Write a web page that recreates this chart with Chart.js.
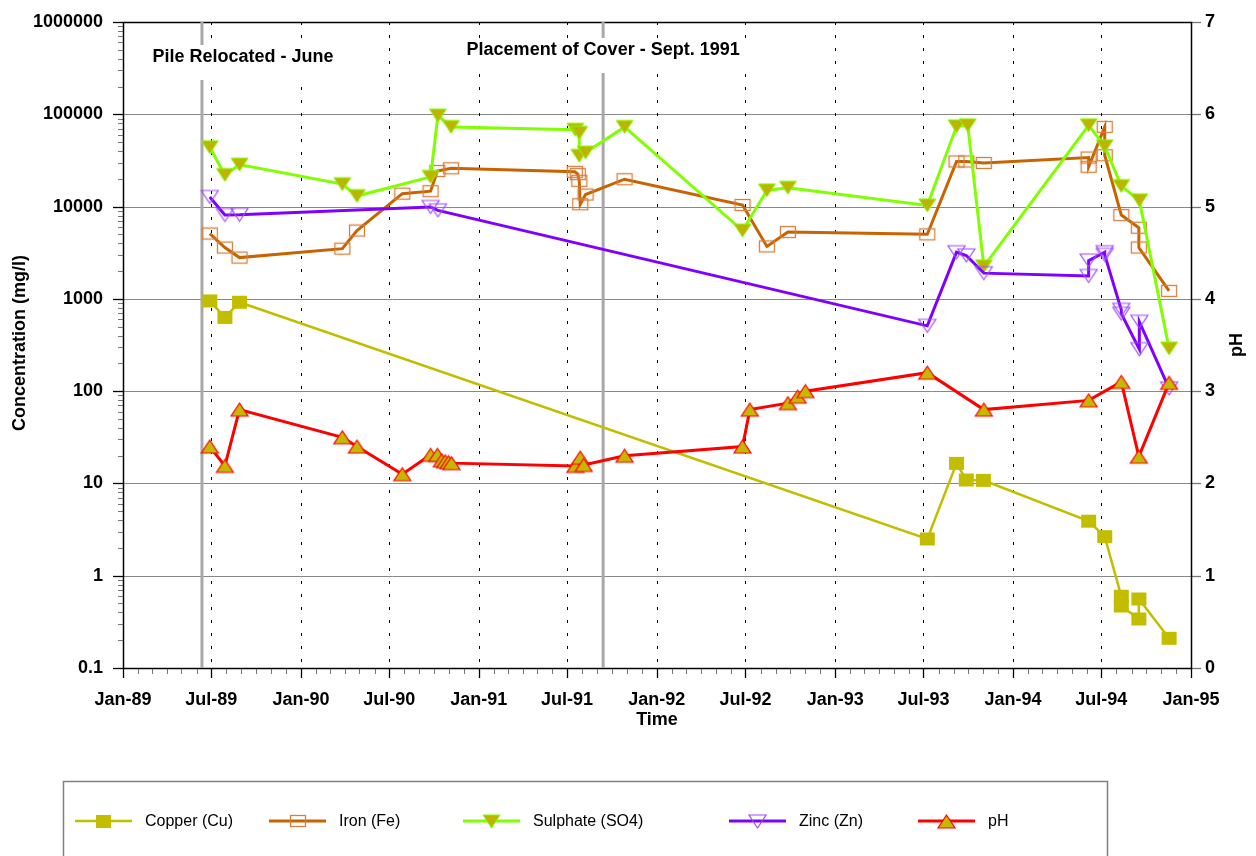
<!DOCTYPE html>
<html>
<head>
  <title>Seepage Chemistry 1989-1994</title>
  <script src="https://cdn.jsdelivr.net/npm/chart.js"></script>
</head>
<body style="margin:0;background:#fff;">
  <canvas id="chart" width="1256" height="856"></canvas>

  <script>
    // sampling dates and results, one pair of arrays per parameter
    const copperDates = ['1989-06-28', '1989-07-29', '1989-08-28', '1993-07-09', '1993-09-07', '1993-09-27', '1993-11-01',
      '1994-06-05', '1994-07-08', '1994-08-11', '1994-08-11', '1994-09-16', '1994-09-16', '1994-11-17'];
    const copperValues = [950, 630, 920, 2.5, 16.5, 10.9, 10.8, 3.9, 2.65, 0.6, 0.47, 0.34, 0.56, 0.21];

    const ironDates = ['1989-06-28', '1989-07-29', '1989-08-28', '1990-03-27', '1990-04-26', '1990-07-28', '1990-09-24',
      '1990-10-08', '1990-11-05', '1991-07-17', '1991-07-23', '1991-07-26', '1991-07-28', '1991-08-08', '1991-10-27',
      '1992-06-25', '1992-08-14', '1992-09-26', '1993-07-09', '1993-09-07', '1993-09-27', '1993-11-02', '1994-06-05',
      '1994-06-05', '1994-07-08', '1994-07-08', '1994-08-11', '1994-09-16', '1994-09-16', '1994-11-17'];
    const ironValues = [5100, 3600, 2800, 3500, 5500, 13800, 14700, 24300, 26000, 23800, 22500, 19000, 10600, 13500, 19800,
      10400, 3700, 5300, 5000, 30800, 30800, 29700, 34000, 27000, 73000, 36000, 8100, 5900, 3600, 1220];

    const sulphateDates = ['1989-06-28', '1989-07-29', '1989-08-28', '1990-03-27', '1990-04-26', '1990-09-24', '1990-10-09',
      '1990-11-05', '1991-07-18', '1991-07-26', '1991-07-26', '1991-08-08', '1991-10-27', '1992-06-25', '1992-08-14',
      '1992-09-26', '1993-07-09', '1993-09-07', '1993-09-30', '1993-11-02', '1994-06-05', '1994-07-08', '1994-08-11',
      '1994-09-17', '1994-11-17'];
    const sulphateValues = [44000, 22000, 28500, 17500, 13000, 21000, 97000, 73000, 68000, 63000, 35500, 38500, 73000,
      5500, 15000, 16000, 10300, 74000, 76000, 2250, 76000, 45000, 16700, 11700, 290];

    const zincDates = ['1989-06-28', '1989-07-29', '1989-08-28', '1990-09-24', '1990-10-09', '1993-07-09', '1993-09-07',
      '1993-09-27', '1993-11-02', '1994-06-05', '1994-06-05', '1994-07-08', '1994-07-08', '1994-08-11', '1994-08-11',
      '1994-09-17', '1994-09-17', '1994-11-17'];
    const zincValues = [12700, 8100, 8150, 9900, 9100, 510, 3200, 2950, 1900, 1770, 2600, 3200, 3000, 760, 690, 285, 565, 107];

    const phDates = ['1989-06-28', '1989-07-29', '1989-08-28', '1990-03-27', '1990-04-26', '1990-07-28', '1990-09-24',
      '1990-10-08', '1990-10-17', '1990-10-24', '1990-10-31', '1990-11-06', '1991-07-18', '1991-07-28', '1991-08-04',
      '1991-10-27', '1992-06-25', '1992-07-10', '1992-09-26', '1992-10-16', '1992-11-01', '1993-07-09', '1993-11-02',
      '1994-06-05', '1994-08-11', '1994-09-16', '1994-11-17'];
    const phValues = [2.40, 2.19, 2.80, 2.50, 2.40, 2.10, 2.31, 2.31, 2.25, 2.24, 2.23, 2.22, 2.19, 2.28, 2.20,
      2.30, 2.40, 2.80, 2.87, 2.94, 3.00, 3.20, 2.80, 2.90, 3.10, 2.29, 3.09];

    const eventDates = ['1989-06-12', '1991-09-13'];
    const eventLabels = ['Pile Relocated - June', 'Placement of Cover - Sept. 1991'];

    const xTickLabels = ['Jan-89', 'Jul-89', 'Jan-90', 'Jul-90', 'Jan-91', 'Jul-91', 'Jan-92', 'Jul-92',
      'Jan-93', 'Jul-93', 'Jan-94', 'Jul-94', 'Jan-95'];
    const yTickValues = [0.1, 1, 10, 100, 1000, 10000, 100000, 1000000];
    const yTickLabels = ['0.1', '1', '10', '100', '1000', '10000', '100000', '1000000'];
    const phTickLabels = ['0', '1', '2', '3', '4', '5', '6', '7'];

    const FONT = '"Liberation Sans", Arial, sans-serif';
    Chart.defaults.font.family = FONT;
    Chart.defaults.color = '#000';

    const day = s => Date.parse(s + 'T00:00:00Z');
    const toPoints = (dates, values) => dates.map((d, i) => ({ x: day(d), y: values[i] }));
    const monthIdx = { Jan: 0, Jul: 6 };
    const tickDate = lbl => Date.UTC(1900 + Number(lbl.slice(4)), monthIdx[lbl.slice(0, 3)], 1);
    const xTicks = xTickLabels.map(tickDate);

    // marker sprites
    function sprite(w, h, paint) {
      const c = document.createElement('canvas');
      c.width = w + 4;
      c.height = h + 4;
      const g = c.getContext('2d');
      g.translate(2, 2);
      paint(g, w, h);
      return c;
    }
    function triPath(g, w, h, down) {
      g.beginPath();
      if (down) { g.moveTo(0, 0); g.lineTo(w, 0); g.lineTo(w / 2, h); }
      else { g.moveTo(w / 2, 0); g.lineTo(w, h); g.lineTo(0, h); }
      g.closePath();
    }
    const cuMark = sprite(15, 13, (g, w, h) => {
      g.fillStyle = '#c3bd00'; g.fillRect(0, 0, w, h);
    });
    const feMark = sprite(16, 12, (g, w, h) => {
      g.strokeStyle = '#d4813e'; g.lineWidth = 1.3; g.strokeRect(0.5, 0.5, w - 1, h - 1);
    });
    const so4Mark = sprite(17, 13, (g, w, h) => {
      triPath(g, w, h, true); g.fillStyle = '#bdb400'; g.fill();
      g.strokeStyle = '#80ff00'; g.lineWidth = 1; g.stroke();
    });
    const znMark = sprite(17, 13, (g, w, h) => {
      triPath(g, w, h, true); g.strokeStyle = '#9d4dff'; g.lineWidth = 1.2; g.stroke();
    });
    const phMark = sprite(17, 13, (g, w, h) => {
      triPath(g, w, h, false); g.fillStyle = '#c4b800'; g.fill();
      g.strokeStyle = '#ff0000'; g.lineWidth = 1.2; g.stroke();
    });

    const series = [
      { label: 'Copper (Cu)', data: toPoints(copperDates, copperValues), borderColor: '#c3bd00', borderWidth: 2.5, pointStyle: cuMark, yAxisID: 'y', order: 4 },
      { label: 'Iron (Fe)', data: toPoints(ironDates, ironValues), borderColor: '#c86400', borderWidth: 3, pointStyle: feMark, yAxisID: 'y', order: 3 },
      { label: 'Sulphate (SO4)', data: toPoints(sulphateDates, sulphateValues), borderColor: '#80ff00', borderWidth: 3, pointStyle: so4Mark, yAxisID: 'y', order: 2 },
      { label: 'Zinc (Zn)', data: toPoints(zincDates, zincValues), borderColor: '#8000ff', borderWidth: 3, pointStyle: znMark, yAxisID: 'y', order: 1 },
      { label: 'pH', data: toPoints(phDates, phValues), borderColor: '#ff0000', borderWidth: 3, pointStyle: phMark, yAxisID: 'y1', order: 0 }
    ];

    function line(ctx, x1, y1, x2, y2) {
      ctx.beginPath(); ctx.moveTo(x1, y1); ctx.lineTo(x2, y2); ctx.stroke();
    }

    // fixed axis sizes so the plot area does not depend on label metrics
    const fitSide = w => s => { s.width = w; s.paddingTop = 0; s.paddingBottom = 0; };

    // grid, axes, event markers
    const frame = {
      id: 'frame',
      beforeDatasetsDraw(chart) {
        const { ctx, chartArea: a, scales: { x, y, y1 } } = chart;
        ctx.save();

        ctx.strokeStyle = '#888'; ctx.lineWidth = 1;
        yTickValues.slice(1, -1).forEach(v => {
          const py = Math.round(y.getPixelForValue(v)) + 0.5;
          line(ctx, a.left, py, a.right + 10, py);
        });

        ctx.strokeStyle = '#000'; ctx.setLineDash([3, 10]);
        xTicks.slice(1, -1).forEach(v => {
          const px = Math.round(x.getPixelForValue(v)) + 0.5;
          line(ctx, px, a.top, px, a.bottom);
        });
        ctx.setLineDash([]);

        // minor ticks
        ctx.strokeStyle = '#777'; ctx.lineWidth = 1;
        for (let m = 0; m <= 72; m++) {
          const px = Math.round(x.getPixelForValue(Date.UTC(1989, m, 1))) + 0.5;
          line(ctx, px, a.bottom, px, a.bottom + 6);
        }
        for (let d = -1; d < 6; d++) {
          for (let k = 2; k < 10; k++) {
            const py = Math.round(y.getPixelForValue(k * Math.pow(10, d))) + 0.5;
            line(ctx, a.left - 5, py, a.left, py);
          }
        }
        // major ticks
        ctx.strokeStyle = '#000'; ctx.lineWidth = 1.3;
        xTicks.forEach(v => {
          const px = Math.round(x.getPixelForValue(v)) + 0.5;
          line(ctx, px, a.bottom, px, a.bottom + 10);
        });
        yTickValues.forEach(v => {
          const py = Math.round(y.getPixelForValue(v)) + 0.5;
          line(ctx, a.left - 10, py, a.left, py);
        });
        ctx.strokeStyle = '#777';
        phTickLabels.forEach((t, i) => {
          const py = Math.round(y1.getPixelForValue(i)) + 0.5;
          line(ctx, a.right, py, a.right + 10, py);
        });

        ctx.strokeStyle = '#000'; ctx.lineWidth = 1.5;
        ctx.strokeRect(Math.round(a.left) + 0.5, Math.round(a.top) + 0.5, Math.round(a.right - a.left), Math.round(a.bottom - a.top));

        // events
        ctx.strokeStyle = '#a8a8a8'; ctx.lineWidth = 3;
        const ex = eventDates.map(d => x.getPixelForValue(day(d)));
        ex.forEach(px => line(ctx, px, a.top, px, a.bottom));

        const notes = [{ dx: 41, cy: 57 }, { dx: 0, cy: 50 }];
        ctx.font = 'bold 18px ' + FONT;
        ctx.textAlign = 'center'; ctx.textBaseline = 'middle';
        eventLabels.forEach((t, i) => {
          const cx = ex[i] + notes[i].dx;
          const w = ctx.measureText(t).width + 14;
          ctx.fillStyle = '#fff';
          ctx.fillRect(cx - w / 2, notes[i].cy - 12, w, 35);
          ctx.fillStyle = '#000';
          ctx.fillText(t, cx, notes[i].cy);
        });
        ctx.restore();
      },
      afterDraw(chart) {
        const { ctx } = chart;
        ctx.save();
        ctx.fillStyle = '#000';
        ctx.font = 'bold 18px ' + FONT;
        ctx.textAlign = 'center'; ctx.textBaseline = 'middle';
        ctx.fillText('Time', 657, 720);
        [['Concentration (mg/l)', 20, 343], ['pH', 1237, 345]].forEach(([t, tx, ty]) => {
          ctx.save(); ctx.translate(tx, ty); ctx.rotate(-Math.PI / 2);
          ctx.fillText(t, 0, 0); ctx.restore();
        });

        // legend
        ctx.strokeStyle = '#808080'; ctx.lineWidth = 1.5;
        ctx.strokeRect(63.5, 781.5, 1044, 120);
        const itemX = [75, 269, 463, 729, 918];
        const ly = 821;
        ctx.font = '16px ' + FONT;
        ctx.textAlign = 'left';
        chart.data.datasets.forEach((ds, i) => {
          const lx = itemX[i];
          ctx.strokeStyle = ds.borderColor; ctx.lineWidth = ds.borderWidth;
          line(ctx, lx, ly, lx + 57, ly);
          const m = ds.pointStyle;
          ctx.drawImage(m, Math.round(lx + 28.5 - m.width / 2), Math.round(ly - m.height / 2));
          ctx.fillStyle = '#000';
          ctx.fillText(ds.label, lx + 70, ly + 1);
        });
        ctx.restore();
      }
    };

    new Chart(document.getElementById('chart').getContext('2d'), {
      type: 'line',
      data: { datasets: series },
      options: {
        responsive: false,
        animation: false,
        events: [],
        layout: { padding: { top: 22, left: 0, right: 0, bottom: 0 } },
        elements: { line: { tension: 0 }, point: { radius: 3 } },
        plugins: { legend: { display: false }, tooltip: { enabled: false } },
        scales: {
          x: {
            type: 'linear',
            min: xTicks[0],
            max: xTicks[xTicks.length - 1],
            grid: { display: false, drawTicks: false },
            border: { display: false },
            afterBuildTicks: s => { s.ticks = xTicks.map(v => ({ value: v })); },
            afterFit: s => { s.height = 188; s.paddingLeft = 0; s.paddingRight = 0; },
            ticks: {
              autoSkip: false, maxRotation: 0, padding: 21,
              font: { size: 18, weight: 'bold' },
              callback: (v, i) => xTickLabels[i]
            }
          },
          y: {
            type: 'logarithmic',
            position: 'left',
            min: 0.1,
            max: 1000000,
            grid: { display: false, drawTicks: false },
            border: { display: false },
            afterBuildTicks: s => { s.ticks = yTickValues.map(v => ({ value: v })); },
            afterFit: fitSide(123),
            ticks: { padding: 20, font: { size: 18, weight: 'bold' }, callback: (v, i) => yTickLabels[i] }
          },
          y1: {
            type: 'linear',
            position: 'right',
            min: 0,
            max: 7,
            grid: { display: false, drawTicks: false },
            border: { display: false },
            afterBuildTicks: s => { s.ticks = phTickLabels.map((t, i) => ({ value: i })); },
            afterFit: fitSide(65),
            ticks: { padding: 14, font: { size: 18, weight: 'bold' }, callback: (v, i) => phTickLabels[i] }
          }
        }
      },
      plugins: [frame]
    });
  </script>
</body>
</html>
